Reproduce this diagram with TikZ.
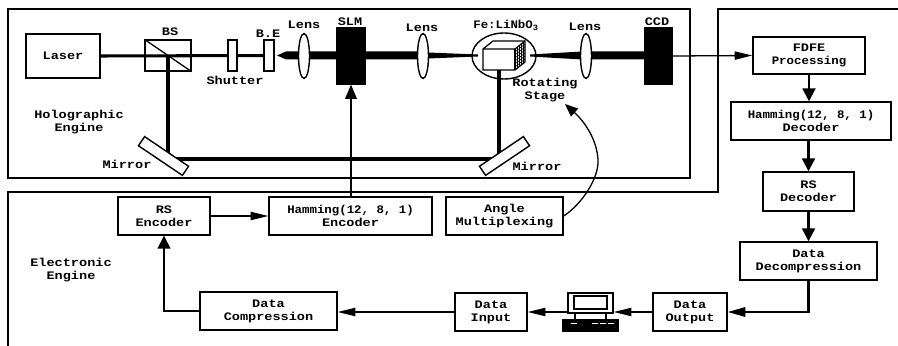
\documentclass[tikz,border=0pt]{standalone}
\usepackage{fontspec}
\setmainfont[FakeStretch=1.18]{Liberation Mono}
\newfontfamily\hamfont[FakeStretch=1.08]{Liberation Mono}
\usetikzlibrary{arrows.meta,shapes.geometric,backgrounds}

\tikzset{
  lbl/.style={font=\bfseries\fontsize{9.8}{11}\selectfont,align=center,inner sep=0pt},
  ebox/.style 2 args={draw,line width=1.2pt,fill=white,lbl,minimum width=#1*0.03cm,minimum height=#2*0.03cm},
  optic/.style 2 args={draw,line width=1.2pt,fill=white,inner sep=0pt,minimum width=#1*0.03cm,minimum height=#2*0.03cm},
  lens/.style={optic={11}{45},ellipse},
  plate/.style={optic={28}{56},fill=black},
  mirror/.style={optic={53}{11},rotate=#1},
  frame/.style={line width=1.2pt},
  beam/.style={line width=2.6pt},
  wire/.style={line width=1.1pt},
  harr/.style={wire,-{Triangle[length=15pt,width=7pt]}},
  varr/.style={line width=1.8pt,-{Triangle[length=11pt,width=11pt]}},
}

\begin{document}
\begin{tikzpicture}[x=0.03cm,y=-0.03cm]
    \useasboundingbox (0,0) rectangle (898,346);
    % frames
    \draw[frame] (8,9) rectangle (690,178);
    \draw[frame] (8,346) -- (8,192) -- (718,192) -- (718,9) -- (898,9);
    % holographic engine
    \node[ebox={74}{44}] (laser) at (63,56) {Laser};
    \node[optic={46}{31},fill=none] (bs) at (168,55.5) {};
    \draw[wire] (bs.north west) -- (bs.south east);
    \node[optic={9}{31}] (shutter) at (232.5,55.5) {};
    \node[optic={10}{31}] (expander) at (269,55.5) {};
    \node[lens] (lensa) at (304,56) {};
    \node[plate] (slm) at (351,56) {};
    \node[lens] (lensb) at (423,56) {};
    \node[lens] (lensc) at (586,56) {};
    \node[plate] (ccd) at (658.5,56) {};
    \coordinate (crystal) at (499,60);
    \coordinate (turna) at (168,159);
    \coordinate (turnb) at (499,159);
    \draw[line width=1.2pt] (504,56) ellipse (32 and 23);
    \draw[wire,fill=white] (483,49) -- (493,41) -- (525,41) -- (525,62) -- (515,70) -- (483,70) -- cycle;
    \draw[wire] (483,49) -- (515,49) -- (525,41);
    \draw[wire] (515,49) -- (515,70);
    \foreach \k in {1,2,3,4} {
      \draw[line width=0.5pt] (515+2*\k,49-1.6*\k) -- (515+2*\k,70-1.6*\k);
    }
    \foreach \k in {1,2,3,4,5,6} {
      \draw[line width=0.5pt] (515,49+3*\k) -- (525,41+3*\k);
    }
    \node[mirror=-34] (mirrora) at (163.5,156) {};
    \node[mirror=34] (mirrorb) at (504.5,156) {};
    \begin{pgfonlayer}{background}
      \draw[beam] (laser.east) -- (expander.center);
      \draw[beam] (bs.center) -- (turna) -- (turnb) -- (crystal);
      \fill (277,55.5) -- (286,51.5) -- (419,51.5) -- (428,52.5) -- (478,54.5) -- (478,56.5) -- (428,58.5) -- (419,59.5) -- (286,59.5) -- cycle;
      \fill (530,54.5) -- (582,51.5) -- (650,51.5) -- (650,59.5) -- (582,59.5) -- (530,56.5) -- cycle;
    \end{pgfonlayer}
    % labels
    \node[lbl] (lbs) at (170,32) {BS};
    \node[lbl] (lshutter) at (235,80) {Shutter};
    \node[lbl] (lbe) at (268,33.5) {B.E};
    \node[lbl] (llensa) at (304,24.5) {Lens};
    \node[lbl] (lslm) at (350,21.5) {SLM};
    \node[lbl] (llensb) at (422,27.5) {Lens};
    \node[lbl] (lcrystal) at (506,25.5) {\hamfont Fe:LiNbO\textsubscript{3}};
    \node[lbl] (llensc) at (585,26.5) {Lens};
    \node[lbl] (lccd) at (657,21.5) {CCD};
    \node[lbl] (lstage) at (545,90) {Rotating\\Stage};
    \node[lbl] (lholo) at (79,122) {Holographic\\Engine};
    \node[lbl] (lmirrora) at (127,164.5) {Mirror};
    \node[lbl] (lmirrorb) at (537,166) {Mirror};
    \node[lbl] (lelec) at (71,270) {Electronic\\Engine};
    \coordinate (stagetip) at (565,104);
    % electronic engine
    \node[ebox={92}{38}] (rsenc) at (164,216) {RS\\Encoder};
    \node[ebox={163}{38}] (hamenc) at (350.5,216) {{\hamfont Hamming(12, 8, 1)}\\Encoder};
    \node[ebox={117}{38}] (angle) at (504.5,216) {Angle\\Multiplexing};
    \node[ebox={137}{38}] (dcomp) at (268.5,311) {Data\\Compression};
    \node[ebox={72}{38}] (dinput) at (491,312) {Data\\Input};
    \node[ebox={74}{38}] (doutput) at (690,312) {Data\\Output};
    \node[ebox={137}{38}] (ddecomp) at (808.5,261) {Data\\Decompression};
    \node[ebox={91}{39}] (rsdec) at (808.5,191.5) {RS\\Decoder};
    \node[ebox={160}{38}] (hamdec) at (811,121) {{\hamfont Hamming(12, 8, 1)}\\Decoder};
    \node[ebox={112}{37}] (fdfe) at (809,55.5) {FDFE\\{\hamfont Processing}};
    % computer
    \node[optic={45}{20}] (monitor) at (590.5,303) {};
    \draw[wire] (574,296) rectangle (607,309);
    \draw[wire] (575,313) -- (575,320) (606,313) -- (606,320);
    \node[optic={55}{11},fill=black] (keyboard) at (590.5,325.5) {};
    \foreach \kx in {571,592,600,608} {
      \draw[white,line width=0.7pt] (\kx,323) -- ++(6,0);
    }
    % connectors
    \draw[harr] (rsenc) -- (hamenc);
    \draw[wire,-{Triangle[length=12pt,width=10pt]}] (hamenc.north -| slm.south) -- (slm.south);
    \draw[wire,-{Triangle[length=11pt,width=9pt]}] (angle.east) .. controls (582,204) and (599,178) .. (598,160) .. controls (597,140) and (585,122) .. (stagetip);
    \draw[harr] (ccd.east) -- (fdfe.west);
    \draw[varr] (fdfe.south) -- (fdfe.south |- hamdec.north);
    \draw[varr] (rsdec |- hamdec.south) -- (rsdec.north);
    \draw[varr] (rsdec) -- (ddecomp);
    \draw[line width=1.8pt,-{Triangle[length=15pt,width=8pt]}] (ddecomp.south) |- (doutput.east);
    \draw[harr] (doutput.west) -- (doutput.west -| monitor.east);
    \draw[harr] (doutput.west -| monitor.west) -- (dinput.east);
    \draw[harr] (dinput.west) -- (dinput.west -| dcomp.east);
    \draw[varr,line width=1.1pt] (dcomp.west) -| (rsenc.south);
  \end{tikzpicture}
\end{document}
